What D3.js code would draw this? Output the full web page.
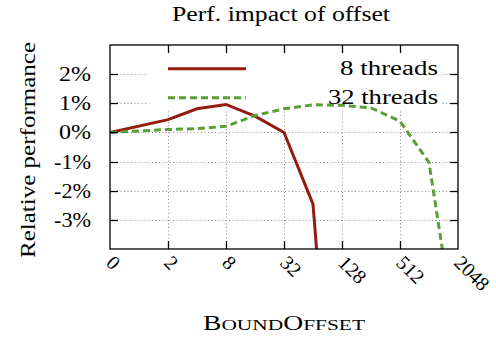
<!DOCTYPE html>
<html><head><meta charset="utf-8">
<script src="https://cdn.jsdelivr.net/npm/d3@7"></script>
</head>
<body style="margin:0;padding:0;background:#fff;"><svg id="c" width="496" height="343"></svg>
<script>
const offsets = [0, 2, 4, 8, 16, 32, 64, 128, 256, 512, 1024, 2048];
const xTickValues = [0, 2, 8, 32, 128, 512, 2048];
const xTickLabels = ["0", "2", "8", "32", "128", "512", "2048"];
const threads8 = [0, 0.44, 0.81, 0.96, 0.56, 0.0, -2.46, -15, null, null, null, null];
const threads32 = [0, 0.10, 0.13, 0.21, 0.58, 0.81, 0.95, 0.93, 0.84, 0.39, -1.03, -7.5];
const yTickValues = [2, 1, 0, -1, -2, -3];
const yTickLabels = ["2%", "1%", "0%", "-1%", "-2%", "-3%"];
const seriesNames = ["8 threads", "32 threads"];
const title = "Perf. impact of offset";
const yTitle = "Relative performance";

const FONT = "'Liberation Serif', monospace";
const svg = d3.select("#c");
const L = 110, R = 458, T = 45, B = 249;
const pos = v => v === 0 ? 0 : Math.log2(v) + 1;
const xs = d3.scaleLinear().domain([0, 12]).range([L, R]);
const x = v => xs(pos(v));
const y = d3.scaleLinear().domain([-4, 3]).range([B, T]);

svg.append("defs").append("clipPath").attr("id","clip")
  .append("rect").attr("x",L).attr("y",T).attr("width",R-L).attr("height",B-T);

const grid = svg.append("g").attr("stroke","#8a8a8a").attr("stroke-width",1).attr("stroke-dasharray","1,2.5");
grid.selectAll(".gy").data(yTickValues).join("line")
  .attr("x1",L).attr("x2",R).attr("y1",d=>Math.round(y(d))+0.5).attr("y2",d=>Math.round(y(d))+0.5);
grid.selectAll(".gx").data(xTickValues.slice(1,-1)).join("line")
  .attr("y1",T).attr("y2",B).attr("x1",d=>Math.round(x(d))+0.5).attr("x2",d=>Math.round(x(d))+0.5);

svg.append("rect").attr("x",148).attr("y",53).attr("width",292).attr("height",58).attr("fill","#fff");

const line = d3.line().defined(d=>d[1]!==null).x(d=>x(d[0])).y(d=>y(d[1]));
const colors = ["#931c0e", "#5c9e36"];
const dashes = [null, "7,4"];
const pg = svg.append("g").attr("clip-path","url(#clip)");
[threads8, threads32].forEach((s,i)=>{
  pg.append("path").datum(offsets.map((o,j)=>[o,s[j]]))
    .attr("d",line).attr("fill","none").attr("stroke",colors[i]).attr("stroke-width",3)
    .attr("stroke-dasharray",dashes[i]).attr("stroke-linejoin","miter");
});

function label(sel, txt, px, py, anchor, len, fs) {
  const t = sel.append("text").attr("x",px).attr("y",py).attr("font-family",FONT)
    .attr("text-anchor",anchor||"start");
  if (len) t.attr("textLength",len).attr("lengthAdjust","spacingAndGlyphs");
  t.append("tspan").attr("font-size",fs||20).text(txt);
  return t;
}

const legY = [y(2)-5.5, y(1)-5.5];
const legLen = [98, 110];
seriesNames.forEach((n,i)=>{
  svg.append("line").attr("x1",168).attr("x2",246).attr("y1",legY[i]).attr("y2",legY[i])
    .attr("stroke",colors[i]).attr("stroke-width",3).attr("stroke-dasharray",dashes[i]);
  label(svg, n, 438, legY[i]+6, "end", legLen[i]);
});

const ax = svg.append("g").attr("stroke","#000").attr("stroke-width",1.3);
ax.append("rect").attr("x",L).attr("y",T).attr("width",R-L).attr("height",B-T).attr("fill","none");
yTickValues.forEach(v=>{
  const yy = Math.round(y(v))+0.5;
  ax.append("line").attr("x1",L).attr("x2",L+8).attr("y1",yy).attr("y2",yy);
  ax.append("line").attr("x1",R-8).attr("x2",R).attr("y1",yy).attr("y2",yy);
});
xTickValues.slice(1,-1).forEach(v=>{
  const xx = Math.round(x(v))+0.5;
  ax.append("line").attr("y1",T).attr("y2",T+8).attr("x1",xx).attr("x2",xx);
  ax.append("line").attr("y1",B-8).attr("y2",B).attr("x1",xx).attr("x2",xx);
});

// y tick labels
yTickValues.forEach((v,i)=>label(svg, yTickLabels[i], 91, y(v)+7, "end", i<3 ? 32 : 37));

// x tick labels (rotation on parent group)
xTickValues.forEach((v,i)=>{
  const g = svg.append("g").attr("transform",`translate(${x(v)+5},254) rotate(45)`);
  label(g, xTickLabels[i], 0, 14, "start");
});

// titles
label(svg, title, 281, 21, "middle", 218);
const yg = svg.append("g").attr("transform","translate(35,150) rotate(-90)");
label(yg, yTitle, 0, 0, "middle", 216);
const xl = svg.append("text").attr("x",284).attr("y",330).attr("text-anchor","middle").attr("font-family",FONT)
  .attr("textLength",162).attr("lengthAdjust","spacingAndGlyphs");
[["B",20],["OUND",15.5],["O",20],["FFSET",15.5]].forEach(p=>xl.append("tspan").attr("font-size",p[1]).text(p[0]));
</script></body></html>
